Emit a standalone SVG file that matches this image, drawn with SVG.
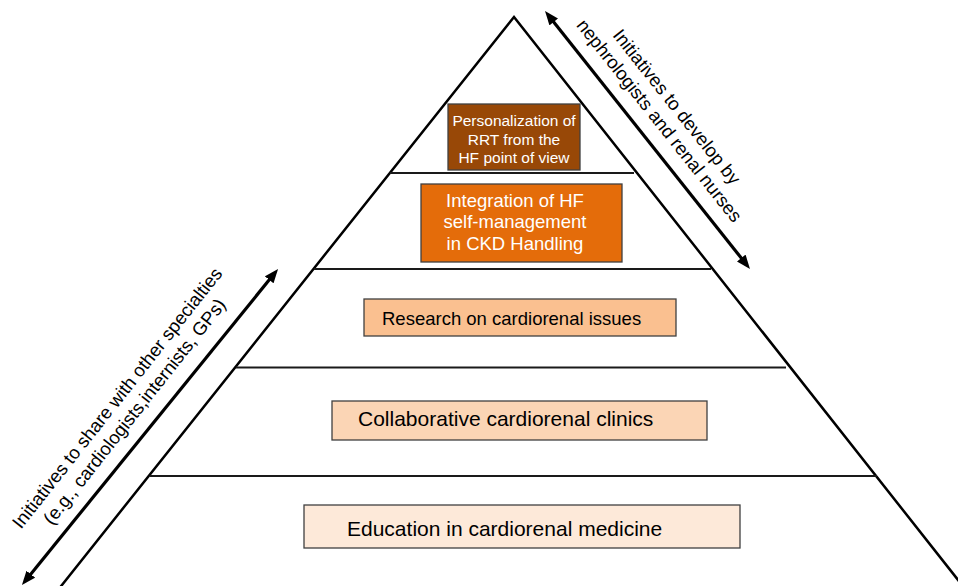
<svg xmlns="http://www.w3.org/2000/svg" width="958" height="586" viewBox="0 0 958 586">
<style>
  text { font-family: "Liberation Sans", Arial, Helvetica, sans-serif; }
  .edge { stroke: #000; stroke-width: 2.5; fill: none; }
  .layer { stroke: #1a1a1a; stroke-width: 2; }
  .box { stroke: #404040; stroke-width: 1.3; }
  .wt { fill: #fff; text-anchor: middle; }
  .bt { fill: #000; }
  .arrow { stroke: #000; stroke-width: 3.2; fill: none; marker-start: url(#ah); marker-end: url(#ah); }
  .side { fill: #000; font-size: 18.5px; text-anchor: middle; }
</style>
<defs>
  <marker id="ah" markerUnits="userSpaceOnUse" markerWidth="16" markerHeight="12" refX="2" refY="5.5" orient="auto-start-reverse" viewBox="0 0 16 11">
    <path d="M0,0 L14,5.5 L0,11 z" fill="#000"/>
  </marker>
</defs>
<rect width="958" height="586" fill="#fff"/>

<g id="pyramid">
  <polyline class="edge" points="58,590 514,17 966,590"/>
  <line class="layer" x1="390" y1="173" x2="634" y2="173"/>
  <line class="layer" x1="314" y1="269" x2="711" y2="269"/>
  <line class="layer" x1="236" y1="367.5" x2="786" y2="367.5"/>
  <line class="layer" x1="150" y1="476" x2="877" y2="476"/>
</g>

<g id="connectors">
  <line class="arrow" x1="552.5" y1="20.4" x2="742.5" y2="259.6"/>
  <line class="arrow" x1="270.5" y1="278.3" x2="29.5" y2="575.7"/>
</g>

<g id="personalization">
  <rect class="box" x="448" y="104" width="132" height="66" fill="#984807"/>
  <text class="wt" font-size="15.5" x="514" y="126">Personalization of</text>
  <text class="wt" font-size="15.5" x="514" y="144.5">RRT from the</text>
  <text class="wt" font-size="15.5" x="514" y="163">HF point of view</text>
</g>

<g id="integration">
  <rect class="box" x="421" y="184" width="201" height="78" fill="#E46C0A"/>
  <text class="wt" font-size="18.5" x="515" y="206.5">Integration of HF</text>
  <text class="wt" font-size="18.5" x="515" y="228">self-management</text>
  <text class="wt" font-size="18.5" x="515" y="250">in CKD Handling</text>
</g>

<g id="research">
  <rect class="box" x="364" y="299" width="312" height="37" fill="#FAC090"/>
  <text class="bt" font-size="18.5" x="382" y="325">Research on cardiorenal issues</text>
</g>

<g id="collaborative">
  <rect class="box" x="332" y="401" width="375" height="39" fill="#FBD5B5"/>
  <text class="bt" font-size="21" x="358" y="426">Collaborative cardiorenal clinics</text>
</g>

<g id="education">
  <rect class="box" x="304" y="505" width="436" height="43" fill="#FDE9D9"/>
  <text class="bt" font-size="21" x="347" y="536">Education in cardiorenal medicine</text>
</g>

<g id="label-right">
  <text class="side" x="671.8" y="110.8" transform="rotate(51.5 671.8 110.8)">Initiatives to develop by</text>
  <text class="side" x="654.5" y="124.5" transform="rotate(51.5 654.5 124.5)">nephrologists and renal nurses</text>
</g>

<g id="label-left">
  <text class="side" x="122.1" y="401.8" transform="rotate(-51.7 122.1 401.8)">Initiatives to share with other specialties</text>
  <text class="side" x="139.4" y="415.4" transform="rotate(-51.7 139.4 415.4)">(e.g., cardiologists,internists, GPs)</text>
</g>
</svg>
